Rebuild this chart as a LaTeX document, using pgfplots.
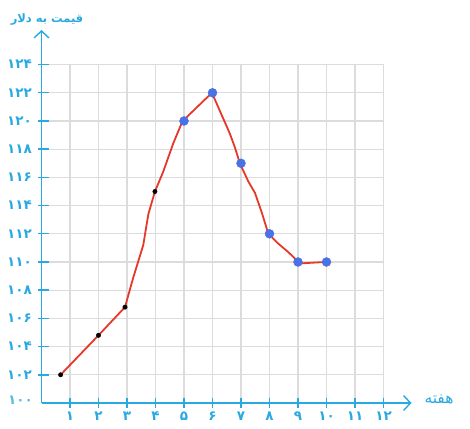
\documentclass[border=0pt]{standalone}
\usepackage{pgfplots}
\pgfplotsset{compat=1.18}
\usepackage{fontspec}
\usetikzlibrary{arrows.meta}
\TeXXeTstate=1
\newfontfamily\fa[Script=Arabic]{DejaVu Sans}
\definecolor{axblue}{HTML}{29A9E1}
\definecolor{dotblue}{HTML}{4A72E4}
\definecolor{redline}{HTML}{E5382B}
\definecolor{gridgray}{HTML}{DCDCDC}
\begin{document}
\begin{tikzpicture}
\useasboundingbox (-41.5pt,-25pt) rectangle (428.5pt,403pt);
\begin{axis}[
  at={(0,0)}, anchor=south west,
  scale only axis,
  width=342pt, height=338.4pt,
  xmin=0, xmax=12, ymin=100, ymax=124,
  axis line style={draw=none},
  clip=false,
  xtick={1,...,12},
  ytick={102,104,...,124},
  xticklabels={۱,۲,۳,۴,۵,۶,۷,۸,۹,۱۰,۱۱,۱۲},
  yticklabels={۱۰۲,۱۰۴,۱۰۶,۱۰۸,۱۱۰,۱۱۲,۱۱۴,۱۱۶,۱۱۸,۱۲۰,۱۲۲,۱۲۴},
  xtick pos=bottom, ytick pos=left,
  major tick length=0pt,
  grid=major,
  grid style={color=gridgray, line width=1.1pt},
  ticklabel style={font=\fa\bfseries\fontsize{13.5}{15}\selectfont, text=axblue},
  xticklabel style={yshift=-5pt},
  yticklabel style={xshift=-6pt},
]
\node[anchor=east, text=axblue!80, font=\fa\bfseries\fontsize{13.5}{15}\selectfont, inner sep=0pt]
  at ([xshift=-8.5pt, yshift=3pt]axis cs:0,100) {۱۰۰};

% blue points
\addplot[only marks, mark=*, mark size=4.5pt, color=dotblue]
  coordinates {(5,120) (6,122) (7,117) (8,112) (9,110) (10,110)};

% hand drawn red line
\addplot[redline, line width=1.8pt, mark=none]
  coordinates {
    (0.67,102) (2,104.8) (2.93,106.8) (3.22,108.9) (3.57,111.2) (3.75,113.4)
    (3.98,115) (4.27,116.4) (4.62,118.4) (4.95,120) (5.21,120.5) (5.98,122)
    (6.61,119.1) (6.79,118.1) (6.96,117) (7.26,115.7) (7.49,114.9) (7.73,113.5)
    (7.96,112) (8.31,111.3) (8.66,110.7) (9.07,109.9) (9.95,110)
  };

% black points
\addplot[only marks, mark=*, mark size=2.2pt, color=black]
  coordinates {(0.67,102) (2,104.8) (2.93,106.8) (3.98,115)};

\node[text=axblue, font=\fa\bfseries\fontsize{11.5}{14}\selectfont]
  at ([xshift=5.5pt, yshift=-4pt]axis cs:0,127.5) {\beginR قیمت به دلار\endR};
\node[text=axblue, font=\fa\fontsize{15.5}{17}\selectfont]
  at ([xshift=27pt, yshift=4pt]axis cs:13,100) {\beginR هفته\endR};
\end{axis}
% axis lines, arrow heads and tick marks (1 unit x = 28.5pt, 2 units y = 28.2pt)
\draw[axblue, line width=1.4pt, -{Straight Barb[length=7pt, width=15pt, line width=1.4pt]}]
  (0,0) -- (0,373pt);
\draw[axblue, line width=1.4pt, -{Straight Barb[length=7pt, width=15pt, line width=1.4pt]}]
  (0,0) -- (370pt,0);
\foreach \i in {1,...,12}
  \draw[axblue, line width=1.4pt] (\i*28.5pt,5.5pt) -- (\i*28.5pt,-4.5pt);
\foreach \j in {1,...,12}
  \draw[axblue, line width=1.4pt] (-3.5pt,\j*28.2pt) -- (7.5pt,\j*28.2pt);
\end{tikzpicture}
\end{document}
